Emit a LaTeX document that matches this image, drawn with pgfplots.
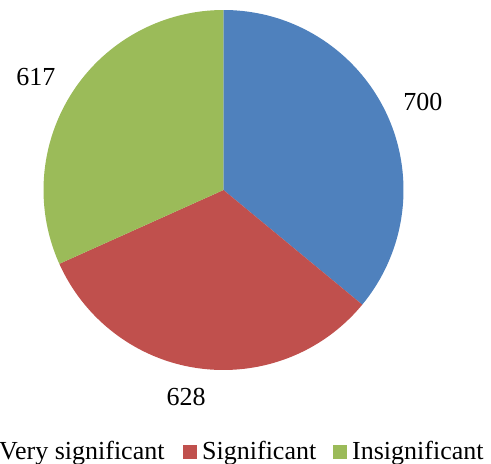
\documentclass[border=0pt]{standalone}
\usepackage{pgfplots}
\pgfplotsset{compat=1.18}
\usepackage{fontspec}
\setmainfont{Liberation Serif}

\definecolor{pieblue}{HTML}{4F81BD}
\definecolor{piered}{HTML}{C0504D}
\definecolor{piegreen}{HTML}{9BBB59}

% slice values
\def\vA{700}
\def\vB{628}
\def\vC{617}

\begin{document}
\begin{tikzpicture}[x=1pt,y=1pt]
\pgfmathsetmacro\tot{\vA+\vB+\vC}
\pgfmathsetmacro\aA{90}
\pgfmathsetmacro\aB{\aA-\vA/\tot*360}
\pgfmathsetmacro\aC{\aB-\vB/\tot*360}
\pgfmathsetmacro\aD{\aC-\vC/\tot*360}
% label directions, near the middle of each slice
\pgfmathsetmacro\mA{(\aA+\aB)/2-1.4}
\pgfmathsetmacro\mB{(\aB+\aC)/2-2.55}
\pgfmathsetmacro\mC{(\aC+\aD)/2+1.8}
\begin{axis}[
  hide axis, scale only axis, width=360pt, height=360pt,
  xmin=-1, xmax=1, ymin=-1, ymax=1,
  at={(43.5pt,94pt)}, anchor=south west, clip=false,
]
\fill[pieblue]  (axis cs:0,0) -- (axis cs:{cos(\aA)},{sin(\aA)}) arc[start angle=\aA, end angle=\aB, radius=1] -- cycle;
\fill[piered]   (axis cs:0,0) -- (axis cs:{cos(\aB)},{sin(\aB)}) arc[start angle=\aB, end angle=\aC, radius=1] -- cycle;
\fill[piegreen] (axis cs:0,0) -- (axis cs:{cos(\aC)},{sin(\aC)}) arc[start angle=\aC, end angle=\aD, radius=1] -- cycle;
\node[font=\fontsize{26}{31}\selectfont] at (axis cs:{1.211*cos(\mA)},{1.211*sin(\mA)}) {\vA};
\node[font=\fontsize{26}{31}\selectfont] at (axis cs:{1.169*cos(\mB)},{1.169*sin(\mB)}) {\vB};
\node[font=\fontsize{26}{31}\selectfont] at (axis cs:{1.217*cos(\mC)},{1.217*sin(\mC)}) {\vC};
\end{axis}
% legend
\begin{scope}[every node/.style={font=\fontsize{26}{31}\selectfont, anchor=base west, inner sep=0pt}]
\fill[pieblue]  (-20,5) rectangle (-6,19);
\node at (-1,4) {Very significant};
\fill[piered]   (183,5) rectangle (197,19);
\node at (202,4) {Significant};
\fill[piegreen] (333,5) rectangle (347,19);
\node at (352,4) {Insignificant};
\end{scope}
\pgfresetboundingbox
\useasboundingbox (0,0) rectangle (491,464);
\end{tikzpicture}
\end{document}
